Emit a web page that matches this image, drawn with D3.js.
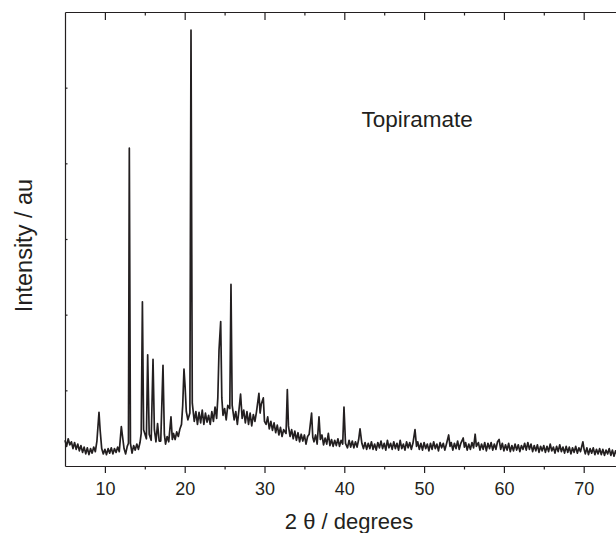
<!DOCTYPE html>
<html>
<head>
<meta charset="utf-8">
<script src="https://cdn.jsdelivr.net/npm/d3@7"></script>
<style>
html,body{margin:0;padding:0;background:#fff;overflow:hidden;}
svg{display:block;font-family:"Liberation Sans",Arial,Helvetica,sans-serif;}
</style>
</head>
<body>
<svg id="chart" width="616" height="533"></svg>
<script>
// ---- data ----
const xMajorTicks = [10, 20, 30, 40, 50, 60, 70];
const xMinorTicks = [15, 25, 35, 45, 55, 65, 75];
const yTicks = [1000, 2000, 3000, 4000, 5000];
const sampleLabel = "Topiramate";
const xTitle = "2 θ / degrees";
const yTitle = "Intensity / au";

const twoTheta = [
 5.0,5.2,5.4,5.6,5.8,6.0,6.2,6.4,6.6,6.8,
 7.0,7.2,7.4,7.6,7.8,8.0,8.2,8.4,8.6,8.8,
 9.0,9.26,9.4,9.6,9.8,10.0,10.2,10.4,10.6,10.8,
 11.0,11.2,11.4,11.6,11.8,12.06,12.2,12.4,12.6,12.8,
 12.95,13.06,13.2,13.4,13.6,13.8,14.0,14.2,14.4,14.55,14.7,
 14.85,15.2,15.36,15.55,15.8,16.03,16.2,16.4,16.6,16.8,
 17.0,17.28,17.45,17.6,17.8,18.0,18.28,18.45,18.6,18.8,
 19.0,19.2,19.4,19.6,19.75,19.91,20.05,20.2,20.4,20.65,20.79,
 20.95,21.2,21.4,21.6,21.8,22.0,22.2,22.4,22.6,22.8,
 23.0,23.2,23.4,23.6,23.8,24.0,24.15,24.3,24.51,24.65,24.8,
 25.0,25.2,25.4,25.65,25.8,25.95,26.2,26.4,26.6,26.8,
 27.0,27.2,27.4,27.6,27.8,28.0,28.2,28.4,28.6,28.8,
 29.0,29.3,29.45,29.6,29.85,30.0,30.2,30.4,30.6,30.8,
 31.0,31.2,31.4,31.6,31.8,32.0,32.2,32.4,32.7,32.86,
 33.0,33.2,33.4,33.6,33.8,34.0,34.2,34.4,34.6,34.8,
 35.0,35.2,35.4,35.6,35.9,36.05,36.2,36.4,36.6,36.83,
 37.0,37.2,37.4,37.6,37.8,38.0,38.2,38.4,38.6,38.8,
 39.0,39.2,39.4,39.6,39.8,39.96,40.15,40.4,40.6,40.8,
 41.0,41.2,41.4,41.6,41.8,41.97,42.2,42.4,42.6,42.8,
 43.0,43.2,43.4,43.6,43.8,44.0,44.2,44.4,44.6,44.8,
 45.0,45.2,45.4,45.6,45.8,46.0,46.2,46.4,46.6,46.8,
 47.0,47.2,47.4,47.6,47.8,48.0,48.2,48.4,48.6,48.86,
 49.05,49.2,49.4,49.6,49.8,50.0,50.2,50.4,50.6,50.8,
 51.0,51.2,51.4,51.6,51.8,52.0,52.2,52.4,52.6,52.8,
 53.08,53.25,53.4,53.6,53.8,54.0,54.2,54.4,54.6,54.9,
 55.05,55.2,55.4,55.6,55.8,56.0,56.2,56.4,56.55,56.8,
 57.0,57.2,57.4,57.6,57.8,58.0,58.2,58.4,58.6,58.8,
 59.0,59.2,59.4,59.6,59.8,60.0,60.2,60.4,60.6,60.8,
 61.0,61.2,61.4,61.6,61.8,62.0,62.2,62.4,62.6,62.8,
 63.0,63.2,63.4,63.6,63.8,64.0,64.2,64.4,64.6,64.8,
 65.0,65.2,65.4,65.6,65.8,66.0,66.2,66.4,66.6,66.8,
 67.0,67.2,67.4,67.6,67.8,68.0,68.2,68.4,68.6,68.8,
 69.0,69.2,69.4,69.6,69.9,70.05,70.2,70.4,70.6,70.8,
 71.0,71.2,71.4,71.6,71.8,72.0,72.2,72.4,72.6,72.8,
 73.0,73.2,73.4,73.6,73.8,74.0,74.2,74.4,74.6,74.8,75.0
];

const intensity = [
 340,260,360,280,320,230,310,220,290,200,
 270,180,250,160,240,150,230,170,250,190,
 330,710,480,230,160,220,150,230,170,240,
 160,230,180,250,190,520,400,230,160,260,
 300,4200,300,170,270,210,290,220,310,430,2170,
 480,360,1470,420,340,1410,480,320,560,330,
 330,1330,420,290,390,320,650,350,430,350,
 450,390,490,550,800,1280,1050,720,610,700,5760,
 830,590,720,550,710,570,740,550,700,580,
 670,550,720,590,780,630,900,1530,1910,900,670,
 760,610,800,760,2400,800,610,720,550,740,
 950,630,740,570,720,550,700,530,680,590,
 720,960,700,820,900,590,550,650,490,590,
 470,570,440,540,410,510,390,480,430,1010,
 530,390,480,360,460,340,440,320,420,330,
 410,290,390,420,700,380,320,410,290,650,
 350,410,280,370,290,430,270,350,260,340,
 270,360,260,340,290,780,300,240,340,250,
 330,240,320,250,350,490,300,230,310,220,
 300,230,320,220,290,210,310,240,330,230,
 300,210,340,240,300,220,320,230,300,210,
 340,230,290,210,320,240,310,220,300,480,
 260,320,220,300,210,310,230,290,200,300,
 220,320,230,290,200,310,240,300,210,290,
 410,260,310,210,300,230,330,220,300,370,
 250,310,210,290,220,310,240,420,260,310,
 210,290,220,310,200,300,230,310,210,290,
 220,320,350,220,300,200,280,210,300,190,
 270,200,290,210,280,190,270,220,300,210,
 310,220,290,190,270,200,280,180,260,200,
 270,180,260,190,290,200,250,170,260,190,
 280,190,250,170,260,180,250,160,240,180,
 260,170,240,190,320,220,160,240,150,230,
 170,240,150,220,160,230,150,220,140,210,
 160,230,140,210,130,200,150,220,130,190,170
];

// ---- layout ----
const svg = d3.select("#chart");
const margin = {left: 65, top: 12, bottom: 466};
const xRight = 623.6;
const ink = "#231f20";

const x = d3.scaleLinear().domain([5, 75]).range([margin.left, xRight]);
const y = d3.scaleLinear().domain([0, 6000]).range([margin.bottom, margin.top]);

const pts = twoTheta.map((t, i) => [t, intensity[i]]);

// data trace
svg.append("path")
  .datum(pts)
  .attr("fill", "none")
  .attr("stroke", ink)
  .attr("stroke-width", 1.7)
  .attr("stroke-linejoin", "round")
  .attr("d", d3.line().x(d => x(d[0])).y(d => y(d[1])));

function styleAxis(g) {
  g.selectAll("path.domain").attr("stroke", ink).attr("stroke-width", 1.2);
  g.selectAll(".tick line").attr("stroke", ink).attr("stroke-width", 1.2);
  g.selectAll(".tick text").attr("fill", ink);
}

// bottom axis: major with labels
const gB = svg.append("g").attr("transform", `translate(0,${margin.bottom})`)
  .call(d3.axisBottom(x).tickValues(xMajorTicks).tickSize(7).tickSizeOuter(0).tickFormat(d3.format("d")));
gB.selectAll(".tick text").attr("font-size", 18).attr("font-family", "Liberation Sans, Arial, sans-serif").attr("dy", 0).attr("y", 29);
styleAxis(gB);
const gBm = svg.append("g").attr("transform", `translate(0,${margin.bottom})`)
  .call(d3.axisBottom(x).tickValues(xMinorTicks).tickSize(3.5).tickFormat(""));
gBm.select("path.domain").remove();
styleAxis(gBm);

// top axis: inward ticks
const gT = svg.append("g").attr("transform", `translate(0,${margin.top})`)
  .call(d3.axisTop(x).tickValues(xMajorTicks).tickSize(-8).tickSizeOuter(0).tickFormat(""));
styleAxis(gT);
const gTm = svg.append("g").attr("transform", `translate(0,${margin.top})`)
  .call(d3.axisTop(x).tickValues(xMinorTicks).tickSize(-3.5).tickFormat(""));
gTm.select("path.domain").remove();
styleAxis(gTm);

// left axis: tiny inward ticks, no labels
const gL = svg.append("g").attr("transform", `translate(${margin.left},0)`)
  .call(d3.axisLeft(y).tickValues(yTicks).tickSize(-2.5).tickSizeOuter(0).tickFormat(""));
styleAxis(gL);

// right axis (falls at the image edge)
const gR = svg.append("g").attr("transform", `translate(${xRight},0)`)
  .call(d3.axisRight(y).tickValues(yTicks).tickSize(-2.5).tickSizeOuter(0).tickFormat(""));
styleAxis(gR);

// titles
svg.append("text")
  .attr("x", 349).attr("y", 529)
  .attr("text-anchor", "middle")
  .attr("font-size", 22).attr("fill", ink)
  .text(xTitle);

svg.append("text")
  .attr("transform", `translate(31.5,${245.5}) rotate(-90)`)
  .attr("text-anchor", "middle")
  .attr("font-size", 23.5).attr("fill", ink)
  .text(yTitle);

svg.append("text")
  .attr("x", 361.5).attr("y", 127)
  .attr("font-size", 22.5).attr("fill", ink)
  .text(sampleLabel);
</script>
</body>
</html>
